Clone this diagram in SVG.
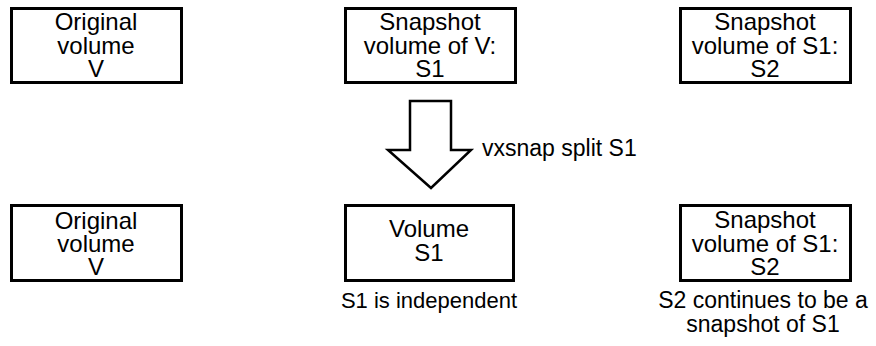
<svg xmlns="http://www.w3.org/2000/svg" width="876" height="346" viewBox="0 0 876 346">
<style>
.box{fill:#fff;stroke:#000;stroke-width:3}
text{font-family:"Liberation Sans",Arial,Helvetica,sans-serif;font-size:24px;fill:#000}
.c{text-anchor:middle}
.lbl{font-size:23px}
.arrow{fill:#fff;stroke:#000;stroke-width:2.5;stroke-linejoin:miter}
</style>
<rect width="876" height="346" fill="#fff"/>
<g id="n1">
<rect class="box" x="11.5" y="8.5" width="170" height="74"/>
<text class="c" x="96" y="30">Original</text>
<text class="c" x="96" y="54">volume</text>
<text class="c" x="96" y="77">V</text>
</g>
<g id="n2">
<rect class="box" x="345.5" y="8.5" width="170" height="74"/>
<text class="c" x="430" y="30">Snapshot</text>
<text class="c" x="430" y="54">volume of V:</text>
<text class="c" x="430" y="77">S1</text>
</g>
<g id="n3">
<rect class="box" x="680.5" y="8.5" width="170" height="74"/>
<text class="c" x="765" y="30">Snapshot</text>
<text class="c" x="765" y="54">volume of S1:</text>
<text class="c" x="765" y="77">S2</text>
</g>
<g id="n4">
<rect class="box" x="11.5" y="205.5" width="170" height="75"/>
<text class="c" x="96" y="229">Original</text>
<text class="c" x="96" y="252">volume</text>
<text class="c" x="96" y="275">V</text>
</g>
<g id="n5">
<rect class="box" x="345.5" y="205.5" width="168" height="75"/>
<text class="c" x="429" y="237">Volume</text>
<text class="c" x="429" y="261">S1</text>
</g>
<g id="n6">
<rect class="box" x="680.5" y="205.5" width="170" height="75"/>
<text class="c" x="765" y="228">Snapshot</text>
<text class="c" x="765" y="252">volume of S1:</text>
<text class="c" x="765" y="275">S2</text>
</g>
<g id="connectors">
<polygon class="arrow" points="410,101 451,101 451,150 471,150 431,188 388,150 410,150"/>
<text x="482" y="156" class="lbl">vxsnap split S1</text>
</g>
<g id="labels">
<text class="c lbl" x="429" y="308" style="font-size:22px">S1 is independent</text>
<text class="c lbl" x="763" y="308">S2 continues to be a</text>
<text class="c lbl" x="763" y="332">snapshot of S1</text>
</g>
</svg>
